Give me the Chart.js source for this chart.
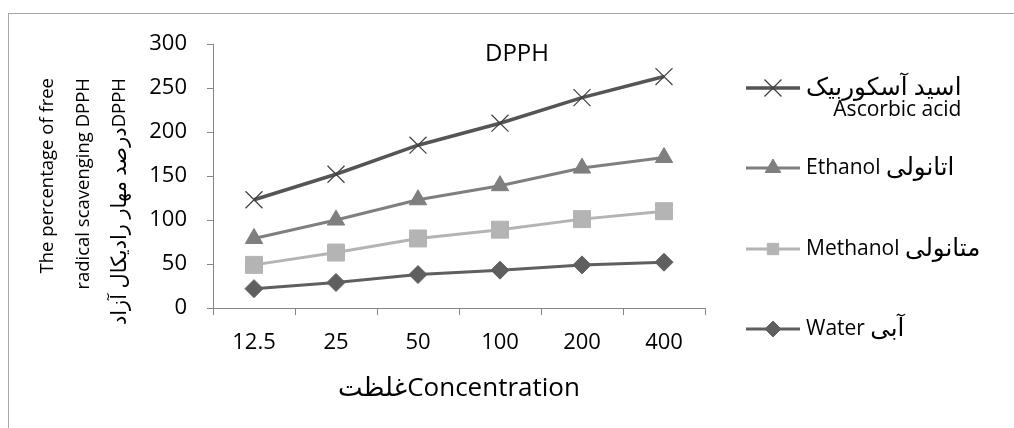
<!DOCTYPE html>
<html>
<head>
<meta charset="utf-8">
<title>DPPH</title>
<script src="https://cdn.jsdelivr.net/npm/chart.js@4/dist/chart.umd.min.js"></script>
<style>
    html, body { margin: 0; padding: 0; background: #ffffff; }
    #wrap { position: relative; width: 1014px; height: 428px; overflow: hidden; }
</style>
</head>
<body>
<div id="wrap">
    <canvas id="dpphChart" width="1014" height="428"></canvas>
</div>
<script>
// Chart data
const concentrations = ['12.5', '25', '50', '100', '200', '400'];
const waterValues = [22, 29, 38, 43, 49, 52];
const methanolValues = [49, 63, 79, 89, 101, 110];
const ethanolValues = [79, 100, 123, 139, 159, 171];
const ascorbicValues = [123, 152, 185, 210, 239, 263];
const yTicks = [0, 50, 100, 150, 200, 250, 300];

const seriesLabels = [
    ['Water آبی'],
    ['Methanol متانولی'],
    ['Ethanol اتانولی'],
    ['اسید آسکوربیک', 'Ascorbic acid']
];
const yTitleLines = ['The percentage of free', 'radical scavenging DPPH', 'درصد مهار رادیکال آزادDPPH'];
const xTitle = 'غلظتConcentration';
const chartTitle = 'DPPH';

const fontFamily = '"Open Sans", "DejaVu Sans", sans-serif';
const axisColor = '#868686';

// Split a label into Latin / Persian runs so the Persian part can use its own size
function splitRuns(text) {
    const re = /[\u0600-\u06FF](?:[\u0600-\u06FF\s]*[\u0600-\u06FF])?/g;
    const runs = [];
    let last = 0, m;
    while ((m = re.exec(text)) !== null) {
        if (m.index > last) runs.push({ text: text.slice(last, m.index), fa: false });
        runs.push({ text: m[0], fa: true });
        last = m.index + m[0].length;
    }
    if (last < text.length) runs.push({ text: text.slice(last), fa: false });
    return runs;
}

// Draw runs left to right, returns total width
function drawMixed(ctx, text, x, y, latinSize, faSize, measureOnly) {
    let cx = x;
    ctx.textAlign = 'left';
    splitRuns(text).forEach(run => {
        ctx.font = (run.fa ? faSize : latinSize) + 'px ' + fontFamily;
        if (!measureOnly) ctx.fillText(run.text, cx, y);
        cx += ctx.measureText(run.text).width;
    });
    return cx - x;
}

// Plugin: outer frame, y title, title inside the plot area, legend on the right
const decorPlugin = {
    id: 'decor',
    beforeDraw(chart) {
        const ctx = chart.ctx;
        ctx.save();
        ctx.fillStyle = '#ffffff';
        ctx.fillRect(0, 0, chart.width, chart.height);
        ctx.strokeStyle = '#a6a6a6';
        ctx.lineWidth = 1;
        ctx.strokeRect(8.5, 13.5, 1200, 600);
        ctx.restore();
    },
    afterDraw(chart) {
        const ctx = chart.ctx;
        ctx.save();
        ctx.fillStyle = '#000000';
        ctx.textBaseline = 'middle';

        // y axis title, rotated and aligned at its top end (RTL paragraph)
        const yTitleX = [48, 84, 120];
        yTitleLines.forEach((line, i) => {
            ctx.save();
            ctx.translate(yTitleX[i], 78);
            ctx.rotate(-Math.PI / 2);
            const w = drawMixed(ctx, line, 0, 0, 18.5, 21, true);
            drawMixed(ctx, line, -w, 0, 18.5, 21, false);
            ctx.restore();
        });

        // title
        ctx.font = '24px ' + fontFamily;
        ctx.textAlign = 'center';
        ctx.fillText(chartTitle, 517, 54);

        // legend, last series on top
        const rowY = [329, 249, 168, 88];
        const lineX1 = 746, lineX2 = 800, textX = 806;
        chart.data.datasets.forEach((ds, i) => {
            const y = rowY[i];
            ctx.strokeStyle = ds.borderColor;
            ctx.lineWidth = ds.borderWidth;
            ctx.beginPath();
            ctx.moveTo(lineX1, y);
            ctx.lineTo(lineX2, y);
            ctx.stroke();
            ctx.fillStyle = ds.pointBackgroundColor;
            ctx.strokeStyle = ds.pointBorderColor;
            ctx.lineWidth = ds.pointBorderWidth;
            Chart.helpers.drawPoint(ctx, {
                pointStyle: ds.pointStyle,
                radius: ds.legendRadius,
                rotation: 0,
                borderWidth: ds.pointBorderWidth
            }, (lineX1 + lineX2) / 2, y);

            const lines = seriesLabels[i];
            ctx.fillStyle = '#000000';
            const firstWidth = drawMixed(ctx, lines[0], textX, y, 21, 24.5, false);
            for (let k = 1; k < lines.length; k++) {
                const w = drawMixed(ctx, lines[k], 0, 0, 21, 24.5, true);
                drawMixed(ctx, lines[k], textX + firstWidth - w, y + 22 * k, 21, 24.5, false);
            }
        });
        ctx.restore();
    }
};

function renderDpphChart() {
    // Find the canvas where the chart will be rendered
    const ctx = document.getElementById('dpphChart').getContext('2d');

    if (window.dpphChartInstance) {
        window.dpphChartInstance.destroy();
    }

    Chart.defaults.font.family = fontFamily;
    Chart.defaults.color = '#000000';

    window.dpphChartInstance = new Chart(ctx, {
        type: 'line',
        data: {
            labels: concentrations,
            datasets: [{
                label: seriesLabels[0].join(' '),
                data: waterValues,
                borderColor: '#5f5f5f',
                borderWidth: 3,
                pointStyle: 'rectRot',
                pointRadius: 9,
                legendRadius: 8,
                pointBackgroundColor: '#5f5f5f',
                pointBorderColor: '#5f5f5f',
                pointBorderWidth: 1
            }, {
                label: seriesLabels[1].join(' '),
                data: methanolValues,
                borderColor: '#b4b4b4',
                borderWidth: 3,
                pointStyle: 'rect',
                pointRadius: 12,
                legendRadius: 8,
                pointBackgroundColor: '#b4b4b4',
                pointBorderColor: '#b4b4b4',
                pointBorderWidth: 1
            }, {
                label: seriesLabels[2].join(' '),
                data: ethanolValues,
                borderColor: '#7f7f7f',
                borderWidth: 3,
                pointStyle: 'triangle',
                pointRadius: 10,
                legendRadius: 9,
                pointBackgroundColor: '#7f7f7f',
                pointBorderColor: '#7f7f7f',
                pointBorderWidth: 1
            }, {
                label: seriesLabels[3].join(' '),
                data: ascorbicValues,
                borderColor: '#555555',
                borderWidth: 3.5,
                pointStyle: 'crossRot',
                pointRadius: 12,
                legendRadius: 12,
                pointBackgroundColor: '#404040',
                pointBorderColor: '#404040',
                pointBorderWidth: 1.2
            }]
        },
        options: {
            responsive: false,
            animation: false,
            devicePixelRatio: 1,
            layout: {
                padding: { left: 0, top: 44, right: 309, bottom: 0 }
            },
            elements: {
                line: { tension: 0 }
            },
            scales: {
                x: {
                    offset: true,
                    afterFit: (scale) => { scale.height = 120; },
                    grid: {
                        offset: true,
                        drawOnChartArea: false,
                        drawTicks: true,
                        tickLength: 7,
                        color: axisColor
                    },
                    border: { color: axisColor, width: 1 },
                    ticks: {
                        font: { size: 22 },
                        padding: 15,
                        maxRotation: 0
                    },
                    title: {
                        display: true,
                        text: xTitle,
                        font: { size: 26, lineHeight: 1.2 },
                        padding: { top: 0, bottom: 24 }
                    }
                },
                y: {
                    min: 0,
                    max: 300,
                    afterFit: (scale) => { scale.width = 213; },
                    afterBuildTicks: (scale) => {
                        scale.ticks = yTicks.map(v => ({ value: v }));
                    },
                    grid: {
                        drawOnChartArea: false,
                        drawTicks: true,
                        tickLength: 6,
                        color: axisColor
                    },
                    border: { color: axisColor, width: 1 },
                    ticks: {
                        font: { size: 22 },
                        padding: 20
                    }
                }
            },
            plugins: {
                legend: { display: false },
                title: { display: false },
                tooltip: { enabled: false }
            }
        },
        plugins: [decorPlugin]
    });
}

renderDpphChart();
</script>
</body>
</html>
